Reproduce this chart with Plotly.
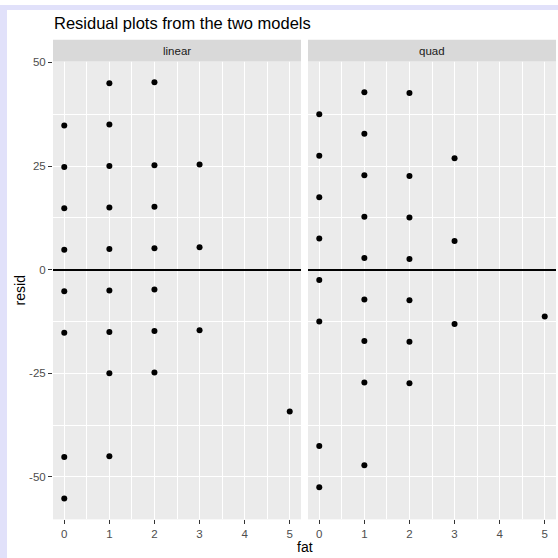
import plotly.graph_objects as go

# ---- data ----
lin_fat = [0, 0, 0, 0, 0, 0, 0, 0,
           1, 1, 1, 1, 1, 1, 1, 1, 1,
           2, 2, 2, 2, 2, 2, 2,
           3, 3, 3,
           5]
lin_resid = [34.8, 24.8, 14.8, 4.8, -5.2, -15.2, -45.2, -55.2,
             45.0, 35.0, 25.0, 15.0, 5.0, -5.0, -15.0, -25.0, -45.0,
             45.2, 25.2, 15.2, 5.2, -4.8, -14.8, -24.8,
             25.4, 5.4, -14.6,
             -34.2]
quad_fat = [0, 0, 0, 0, 0, 0, 0, 0,
            1, 1, 1, 1, 1, 1, 1, 1, 1,
            2, 2, 2, 2, 2, 2, 2,
            3, 3, 3,
            5]
quad_resid = [37.5, 27.5, 17.5, 7.5, -2.5, -12.5, -42.5, -52.5,
              42.8, 32.8, 22.8, 12.8, 2.8, -7.2, -17.2, -27.2, -47.2,
              42.6, 22.6, 12.6, 2.6, -7.4, -17.4, -27.4,
              26.9, 6.9, -13.1,
              -11.3]
panel_labels = ["linear", "quad"]
x_ticks = [0, 1, 2, 3, 4, 5]
y_ticks = [-50, -25, 0, 25, 50]
title_text = "Residual plots from the two models"

W = H = 558
def px(x):
    return x / W
def py(y):
    return 1 - y / H

FONT = "Liberation Sans, Arial, Helvetica, sans-serif"
LAV = "#E1E1FA"

fig = go.Figure()
fig.add_trace(go.Scatter(x=lin_fat, y=lin_resid, mode="markers",
                         marker=dict(color="black", size=6), xaxis="x", yaxis="y",
                         showlegend=False, hoverinfo="x+y"))
fig.add_trace(go.Scatter(x=quad_fat, y=quad_resid, mode="markers",
                         marker=dict(color="black", size=6), xaxis="x2", yaxis="y2",
                         showlegend=False, hoverinfo="x+y"))

xd1 = [px(53), px(301)]
xd2 = [px(308), px(556)]
yd = [py(519), py(57)]
xr = [-0.25, 5.25]
yr = [-60.22, 50.22]

common_x = dict(range=xr, tickvals=x_ticks, ticktext=[str(v) for v in x_ticks],
                showgrid=True, gridcolor="white", gridwidth=1.1,
                minor=dict(tickvals=[0.5, 1.5, 2.5, 3.5, 4.5], gridcolor="white", gridwidth=0.55, showgrid=True),
                zeroline=False, ticks="outside", ticklen=4, tickwidth=1.1, tickcolor="#333333",
                tickfont=dict(family=FONT, size=11.5, color="#4D4D4D"), showline=False, fixedrange=True)
common_y = dict(range=yr, tickvals=y_ticks, ticktext=[str(v) for v in y_ticks],
                showgrid=True, gridcolor="white", gridwidth=1.1,
                minor=dict(tickvals=[-37.5, -12.5, 12.5, 37.5], gridcolor="white", gridwidth=0.55, showgrid=True),
                zeroline=True, zerolinecolor="black", zerolinewidth=1.5,
                ticks="outside", ticklen=4, tickwidth=1.1, tickcolor="#333333",
                tickfont=dict(family=FONT, size=11.5, color="#4D4D4D"), showline=False, fixedrange=True)

layout = dict(
    width=W, height=H, margin=dict(l=0, r=0, t=0, b=0),
    paper_bgcolor="white", plot_bgcolor="#EBEBEB",
    xaxis=dict(domain=xd1, anchor="y", **common_x),
    xaxis2=dict(domain=xd2, anchor="y2", **common_x),
    yaxis=dict(domain=yd, anchor="x", **common_y),
    yaxis2=dict(domain=yd, anchor="x2", **{**common_y, "showticklabels": False, "ticks": ""}),
    showlegend=False,
)
fig.update_layout(**layout)

shapes = [
    dict(type="rect", xref="paper", yref="paper", x0=0, x1=px(7), y0=0, y1=1,
         fillcolor=LAV, line=dict(width=0), layer="below"),
    dict(type="rect", xref="paper", yref="paper", x0=0, x1=1, y0=py(5), y1=1,
         fillcolor=LAV, line=dict(width=0), layer="below"),
]
for xd in (xd1, xd2):
    shapes.append(dict(type="rect", xref="paper", yref="paper", x0=xd[0], x1=xd[1],
                       y0=py(57), y1=py(35), fillcolor="#D9D9D9", line=dict(width=0), layer="above"))
fig.update_layout(shapes=shapes)

ann = []
for xd, lab in zip((xd1, xd2), panel_labels):
    ann.append(dict(text=lab, xref="paper", yref="paper", x=(xd[0] + xd[1]) / 2, y=py(46),
                    xanchor="center", yanchor="middle", showarrow=False,
                    font=dict(family=FONT, size=11.5, color="#1A1A1A")))
ann.append(dict(text=title_text, xref="paper", yref="paper", x=px(52), y=py(18),
                xanchor="left", yanchor="middle", showarrow=False,
                font=dict(family=FONT, size=16.5, color="black")))
ann.append(dict(text="resid", xref="paper", yref="paper", x=px(20), y=py(288),
                xanchor="center", yanchor="middle", showarrow=False, textangle=-90,
                font=dict(family=FONT, size=14, color="black")))
ann.append(dict(text="fat", xref="paper", yref="paper", x=px(304.5), y=py(547),
                xanchor="center", yanchor="middle", showarrow=False,
                font=dict(family=FONT, size=14, color="black")))
fig.update_layout(annotations=ann)

fig.write_html("out.html", config={"displayModeBar": False},
               post_script="document.body.style.margin='0';document.body.style.padding='0';")
